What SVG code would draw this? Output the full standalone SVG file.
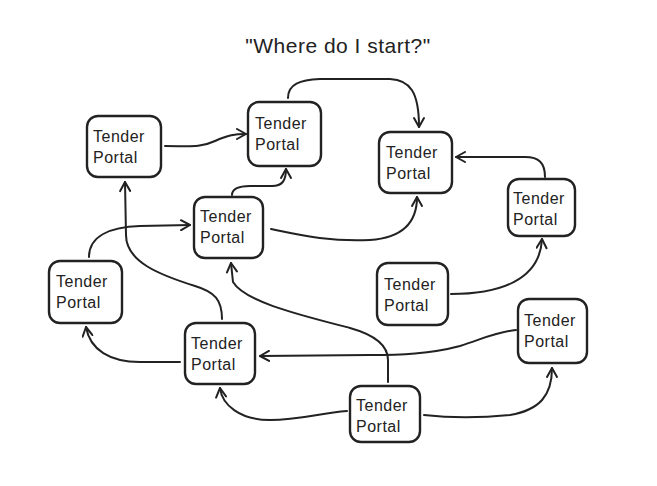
<svg xmlns="http://www.w3.org/2000/svg" width="657" height="486" viewBox="0 0 657 486">
<defs>
<marker id="arr" viewBox="0 0 12 12" refX="11" refY="6" markerWidth="12" markerHeight="12" markerUnits="userSpaceOnUse" orient="auto">
<path d="M2,1 L11,6 L2,11" fill="none" stroke="#222" stroke-width="2" stroke-linecap="round" stroke-linejoin="round"/>
</marker>
<style>
.box{fill:#fff;stroke:#222;stroke-width:2.4}
.t{font-family:"Liberation Sans",Arial,sans-serif;font-size:16px;fill:#222;letter-spacing:0.5px}
.title{font-family:"Liberation Sans",Arial,sans-serif;font-size:21px;fill:#222;text-anchor:middle;letter-spacing:0.5px}
.e{fill:none;stroke:#222;stroke-width:2;stroke-linecap:round;marker-end:url(#arr)}
</style>
</defs>
<rect width="657" height="486" fill="#fff"/>
<text class="title" x="338" y="53">"Where do I start?"</text>
<g id="connectors">
<path class="e" d="M165,146 C190,146 200,148 215,141 C228,135 235,134 246,134"/>
<path class="e" d="M288,98 C288,84 300,80 320,79 L390,79 C410,80 419,92 419,127"/>
<path class="e" d="M545,177 C545,163 539,157 525,157 L456,157"/>
<path class="e" d="M232,195 C232,189 238,186 250,186 L272,186 C282,186 286,181 286,169"/>
<path class="e" d="M271,229 C300,235 330,242 370,240 C400,238 417,225 417,197"/>
<path class="e" d="M89,257 C89,236 110,227 140,226 L190,225"/>
<path class="e" d="M222,319 C222,300 215,292 195,286 C160,275 126,262 126,235 L125,182"/>
<path class="e" d="M388,382 L388,360 C388,345 375,335 350,328 C300,315 245,302 233,282 L231,263"/>
<path class="e" d="M516,330 C495,332 480,340 460,346 C430,354 400,355 370,355 L260,356"/>
<path class="e" d="M180,362 L140,362 C110,362 90,350 86,327"/>
<path class="e" d="M347,411 C320,413 300,420 270,420 C240,420 222,405 220,388"/>
<path class="e" d="M424,415 C450,418 480,418 510,415 C540,410 552,395 552,368"/>
<path class="e" d="M451,294 C500,294 540,280 542,239"/>
</g>
<g id="n1"><rect class="box" x="87" y="116" width="74" height="61" rx="11"/><text class="t" x="93" y="142">Tender</text><text class="t" x="93" y="163">Portal</text></g>
<g id="n2"><rect class="box" x="248" y="102" width="73" height="64" rx="11"/><text class="t" x="255" y="129">Tender</text><text class="t" x="255" y="150">Portal</text></g>
<g id="n3"><rect class="box" x="379" y="132" width="73" height="61" rx="11"/><text class="t" x="386" y="158">Tender</text><text class="t" x="386" y="179">Portal</text></g>
<g id="n4"><rect class="box" x="508" y="179" width="67" height="57" rx="11"/><text class="t" x="513" y="204">Tender</text><text class="t" x="513" y="225">Portal</text></g>
<g id="n5"><rect class="box" x="194" y="197" width="69" height="61" rx="11"/><text class="t" x="200" y="222">Tender</text><text class="t" x="200" y="243">Portal</text></g>
<g id="n6"><rect class="box" x="49" y="261" width="73" height="62" rx="11"/><text class="t" x="56" y="287">Tender</text><text class="t" x="56" y="308">Portal</text></g>
<g id="n7"><rect class="box" x="185" y="323" width="70" height="61" rx="11"/><text class="t" x="191" y="349">Tender</text><text class="t" x="191" y="370">Portal</text></g>
<g id="n8"><rect class="box" x="350" y="386" width="70" height="56" rx="11"/><text class="t" x="356" y="411">Tender</text><text class="t" x="356" y="432">Portal</text></g>
<g id="n9"><rect class="box" x="518" y="299" width="69" height="64" rx="11"/><text class="t" x="524" y="326">Tender</text><text class="t" x="524" y="347">Portal</text></g>
<g id="n10"><rect class="box" x="377" y="263" width="71" height="62" rx="11"/><text class="t" x="384" y="290">Tender</text><text class="t" x="384" y="311">Portal</text></g>
</svg>
